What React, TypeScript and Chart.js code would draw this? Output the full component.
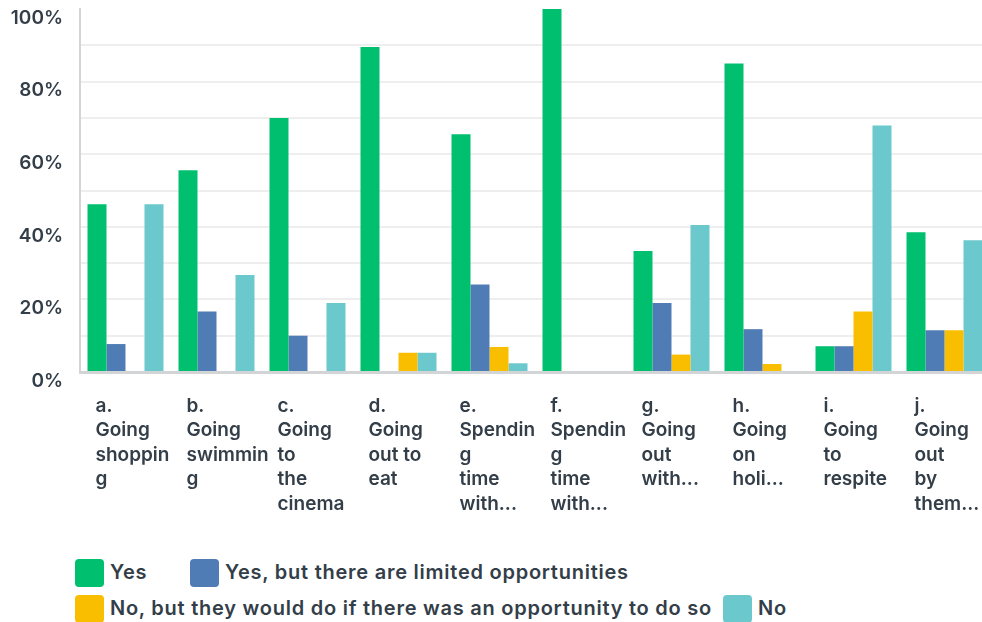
import React, { useEffect, useRef } from "react";
import { Chart, registerables } from "chart.js";

Chart.register(...registerables);

const categories: string[][] = [
  ["a.", "Going", "shoppin", "g"],
  ["b.", "Going", "swimmin", "g"],
  ["c.", "Going", "to", "the", "cinema"],
  ["d.", "Going", "out to", "eat"],
  ["e.", "Spendin", "g", "time", "with..."],
  ["f.", "Spendin", "g", "time", "with..."],
  ["g.", "Going", "out", "with..."],
  ["h.", "Going", "on", "holi..."],
  ["i.", "Going", "to", "respite"],
  ["j.", "Going", "out", "by", "them..."],
];

const seriesNames = [
  "Yes",
  "Yes, but there are limited opportunities",
  "No, but they would do if there was an opportunity to do so",
  "No",
];

const yesValues = [46.2, 55.6, 70.0, 89.5, 65.5, 100, 33.3, 85.0, 7.1, 38.5];
const limitedValues = [7.7, 16.7, 10.0, 0, 24.1, 0, 19.0, 11.8, 7.1, 11.5];
const wouldDoValues = [0, 0, 0, 5.3, 6.9, 0, 4.8, 2.2, 16.7, 11.5];
const noValues = [46.2, 26.7, 19.0, 5.3, 2.4, 0, 40.5, 0, 67.9, 36.3];

const colors = ["#00BF6F", "#507CB6", "#F9BE00", "#6BC8CD"];

const yTicks = [0, 20, 40, 60, 80, 100];

const TEXT = "#333E48";
const FONT = "Inter, 'Open Sans', 'DejaVu Sans', sans-serif";

export default function App() {
  const canvasRef = useRef<HTMLCanvasElement | null>(null);

  useEffect(() => {
    document.documentElement.style.overflow = "hidden";
    document.body.style.margin = "0";
    const canvas = canvasRef.current;
    if (!canvas) return;
    const allSeries = [yesValues, limitedValues, wouldDoValues, noValues];
    const chart = new Chart(canvas, {
      type: "bar",
      data: {
        labels: categories,
        datasets: allSeries.map((vals, i) => ({
          label: seriesNames[i],
          data: vals,
          backgroundColor: colors[i],
          borderWidth: 0,
          categoryPercentage: 0.835,
          barPercentage: 1,
        })),
      },
      options: {
        responsive: false,
        animation: false,
        layout: { padding: { top: 1, left: 0, right: 0, bottom: 0 } },
        plugins: {
          legend: { display: false },
          tooltip: { enabled: false },
        },
        scales: {
          x: {
            grid: { display: false, drawTicks: false },
            border: { display: true, color: "#D3D4D5", width: 3 },
            ticks: {
              autoSkip: false,
              maxRotation: 0,
              minRotation: 0,
              align: "start",
              labelOffset: -30,
              padding: 22,
              color: TEXT,
              font: { family: FONT, size: 19, weight: "600", lineHeight: "24.5px" },
            },
            afterFit: (scale: any) => {
              scale.height = 166;
              scale.paddingLeft = 0;
              scale.paddingRight = 0;
            },
          },
          y: {
            min: 0,
            max: 100,
            grid: {
              drawTicks: false,
              lineWidth: 2,
              color: (ctx: any) =>
                ctx.tick && ctx.tick.value === 100 ? "rgba(0,0,0,0)" : "#EEEEEE",
            },
            border: { display: true, color: "#D3D4D5", width: 2 },
            ticks: {
              stepSize: 10,
              padding: 17,
              labelOffset: 9,
              color: TEXT,
              font: { family: FONT, size: 19, weight: "600" },
              callback: (v: any) => (yTicks.includes(Number(v)) ? `${v}%` : ""),
            },
            afterFit: (scale: any) => {
              scale.width = 72;
              scale.paddingTop = 0;
              scale.paddingBottom = 0;
            },
          },
        },
      },
    });
    return () => chart.destroy();
  }, []);

  const box = (c: string): React.CSSProperties => ({
    position: "absolute",
    width: 29,
    height: 28,
    borderRadius: 4,
    background: c,
  });
  const label: React.CSSProperties = {
    position: "absolute",
    fontFamily: FONT,
    fontSize: 20,
    fontWeight: 600,
    letterSpacing: "0.75px",
    color: TEXT,
    lineHeight: "26px",
    whiteSpace: "nowrap",
  };
  const legendItems = [
    { left: 75, top: 559 },
    { left: 190, top: 559 },
    { left: 75, top: 595 },
    { left: 723, top: 595 },
  ];

  return (
    <div
      style={{
        position: "relative",
        width: 982,
        height: 622,
        overflow: "hidden",
      }}
    >
      <canvas
        ref={canvasRef}
        width={982}
        height={530}
        style={{ display: "block", position: "absolute", left: 8, top: 8 }}
      />
      {legendItems.map((p, i) => (
        <React.Fragment key={i}>
          <div style={{ ...box(colors[i]), left: p.left, top: p.top }} />
          <div style={{ ...label, left: p.left + 35, top: p.top }}>{seriesNames[i]}</div>
        </React.Fragment>
      ))}
    </div>
  );
}
